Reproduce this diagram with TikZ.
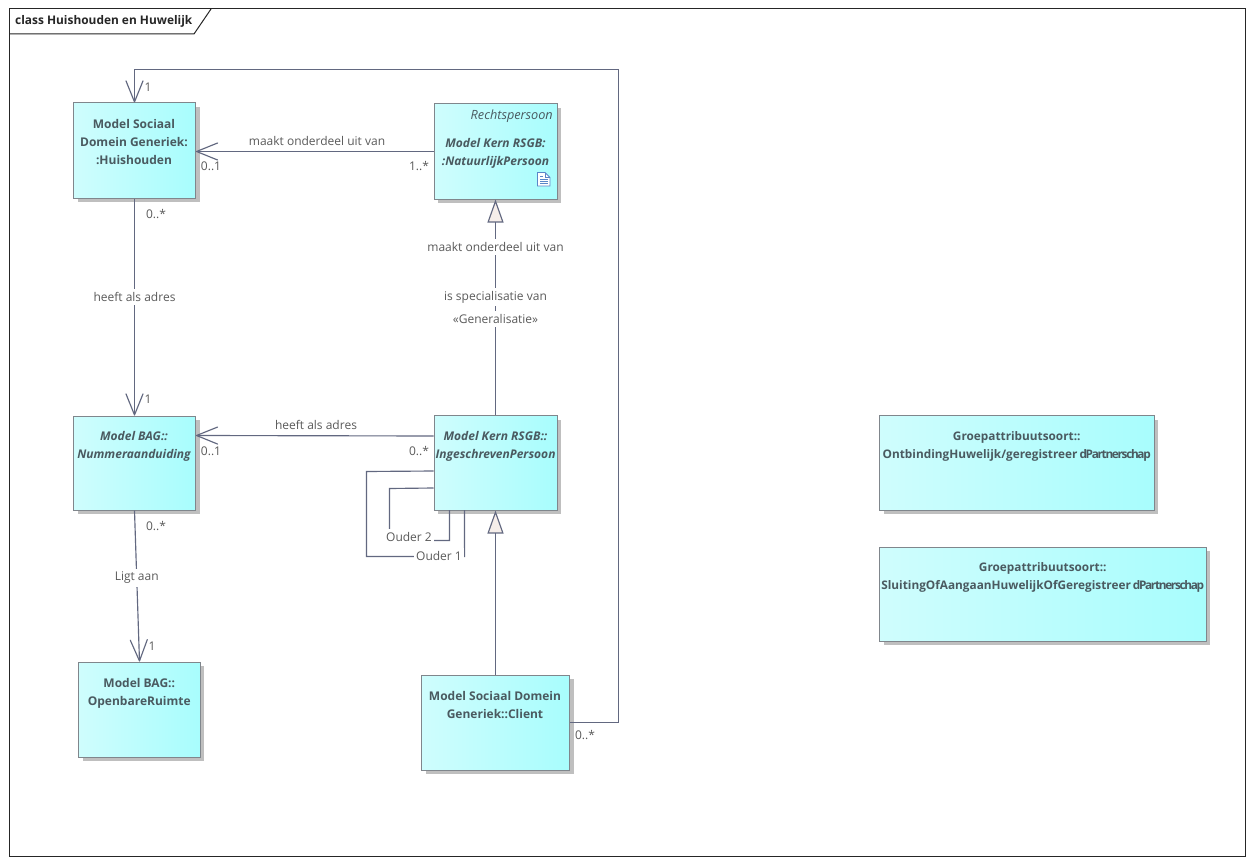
\documentclass[tikz,border=0pt]{standalone}
\usepackage{fontspec}
\setmainfont{Open Sans}
\usetikzlibrary{arrows.meta,calc,shadows}
\definecolor{edgecol}{HTML}{626880}
\definecolor{boxline}{HTML}{80868C}
\definecolor{cname}{HTML}{4A5A60}
\definecolor{lbl}{HTML}{5A5A5A}
\definecolor{tipfill}{HTML}{F6EEEA}
\definecolor{boxleft}{HTML}{CFFDFD}
\definecolor{boxright}{HTML}{A8FDFD}
\definecolor{iconcol}{HTML}{5A86C8}
\tikzset{
  classbox/.style={draw=boxline,line width=1pt,left color=boxleft,right color=boxright,
    rectangle,inner sep=0pt,
    drop shadow={shadow xshift=4pt,shadow yshift=-4pt,fill=black!25,opacity=1}},
  cname/.style={align=center,text=cname,font=\fontsize{12}{18}\selectfont\bfseries,inner sep=0pt,anchor=north},
  cital/.style={cname,font=\fontsize{12}{18}\selectfont\bfseries\itshape},
  cwide/.style={cname,font=\fontsize{11.8}{18}\selectfont\bfseries},
  lab/.style={text=lbl,font=\fontsize{12}{14}\selectfont,inner sep=0pt},
  wlab/.style={lab,fill=white,inner ysep=3pt,inner xsep=2pt},
  conn/.style={draw=edgecol,line width=1.15pt},
  open/.style={conn,-{Straight Barb[length=21pt,width=17pt,line width=1.15pt,round=false]}},
  gen/.style={conn,-{Triangle[open,length=23pt,width=16pt,fill=tipfill,line width=1.15pt]}},
}
\newcommand{\umlbox}[5]{\node[classbox,minimum width=#3 pt,minimum height=#4 pt] (#5) at (#1,#2) {};}
\newcommand{\squeezed}[1]{{\addfontfeature{LetterSpace=-11}#1}}
\begin{document}
\begin{tikzpicture}[x=1pt,y=-1pt]
\useasboundingbox (0,0) rectangle (1253,864);
\fill[white] (0,0) rectangle (1253,864);
\draw[black!85,line width=1pt] (9,9) rectangle (1245,856);
\draw[black!85,line width=1pt] (9,34) -- (194,34) -- (211,9);
\node[anchor=west,inner sep=0pt,text=black!85,font=\fontsize{11.9}{14}\selectfont\bfseries] (title) at (15,21) {class Huishouden en Huwelijk};
% boxes
\umlbox{134.5}{150.5}{122}{95}{huis}
\umlbox{495.5}{151.5}{123}{95}{nat}
\umlbox{134.5}{463}{122}{94}{num}
\umlbox{495.5}{462.75}{123}{94.5}{ing}
\umlbox{139.5}{709.5}{121.5}{95}{open}
\umlbox{495.5}{722.5}{148}{95}{client}
\umlbox{1016.75}{462.75}{274.5}{94.5}{ont}
\umlbox{1042.75}{594}{326.5}{94}{slu}
% box texts
\node[cname] (huist) at (134,119) {Model Sociaal\\Domein Generiek:\\:Huishouden};
\node[lab,font=\fontsize{12.7}{14}\selectfont\itshape,text=cname,anchor=east] (natst) at (553,116) {Rechtspersoon};
\node[cital] (natt) at (495.5,138) {Model Kern RSGB:\\:NatuurlijkPersoon};
\node[cital] (numt) at (134,431) {Model BAG::\\Nummeraanduiding};
\node[cital] (ingt) at (495.5,431) {Model Kern RSGB::\\IngeschrevenPersoon};
\node[cname] (opent) at (139.25,678) {Model BAG::\\OpenbareRuimte};
\node[cname] (clientt) at (495,691.5) {Model Sociaal Domein\\Generiek::Client};
\node[cwide] (ontt) at (1016.75,431.5) {Groepattribuutsoort::\\OntbindingHuwelijk/geregistreer\,\squeezed{dPartnerschap}};
\node[cwide] (slut) at (1042.75,562) {Groepattribuutsoort::\\SluitingOfAangaanHuwelijkOfGeregistreer\,\squeezed{dPartnerschap}};
% document icon
\draw[iconcol,line width=.9pt,fill=white] (537.5,172.5) -- (545,172.5) -- (550,177.5) -- (550,186) -- (537.5,186) -- cycle;
\draw[iconcol,line width=.7pt] (545,172.5) -- (545,177.5) -- (550,177.5) (540,176) -- (543,176) (540,179) -- (547.5,179) (540,181) -- (547.5,181) (540,183.5) -- (547.5,183.5);
% connectors
\draw[open] (nat.west) -- (nat.west -| huis.east);
\draw[open] (huis.south) -- node[wlab,pos=.454] (l1) {heeft als adres} (num.north);
\draw[open] ($(ing.north west)+(0,21)$) -- ($(num.north east)+(0,20)$);
\draw[open] (num.south) -- node[wlab,pos=.445] (l2) {Ligt aan} (open.north);
\draw[open] (client.east) -| (618.5,69.5) -| (huis.north);
\draw[gen] (ing.north -| nat.south) -- node[wlab,pos=.548] (l3) {is specialisatie van} node[wlab,pos=.445] (l3b) {«Generalisatie»} node[wlab,pos=.78] (l4) {maakt onderdeel uit van} (nat.south);
\draw[gen] (client.north) -- (ing.south);
\draw[conn] ($(ing.north west)+(0,56)$) -- (366.5,471.5) -- (366.5,556.5) -- (464.5,556.5) -- (464.5,510) coordinate (o1);
\node[wlab] (o1l) at (439,556) {Ouder 1};
\draw[conn] ($(ing.north west)+(0,73)$) -- (389.5,488.5) -- (389.5,540.5) -- (449.5,540.5) -- (449.5,510) coordinate (o2);
\node[wlab] (o2l) at (409,537) {Ouder 2};
% labels
\node[lab] (a1) at (317,141) {maakt onderdeel uit van};
\node[lab] (a2) at (316,425) {heeft als adres};
\node[lab] (m1) at (148,87) {1};
\node[lab] (m2) at (211,166) {0..1};
\node[lab] (m3) at (419,166) {1..*};
\node[lab] (m4) at (156,214) {0..*};
\node[lab] (m5) at (148,399) {1};
\node[lab] (m6) at (211,451) {0..1};
\node[lab] (m7) at (419,451) {0..*};
\node[lab] (m8) at (156,526) {0..*};
\node[lab] (m9) at (152,646) {1};
\node[lab] (m10) at (585,735) {0..*};
\end{tikzpicture}
\end{document}
